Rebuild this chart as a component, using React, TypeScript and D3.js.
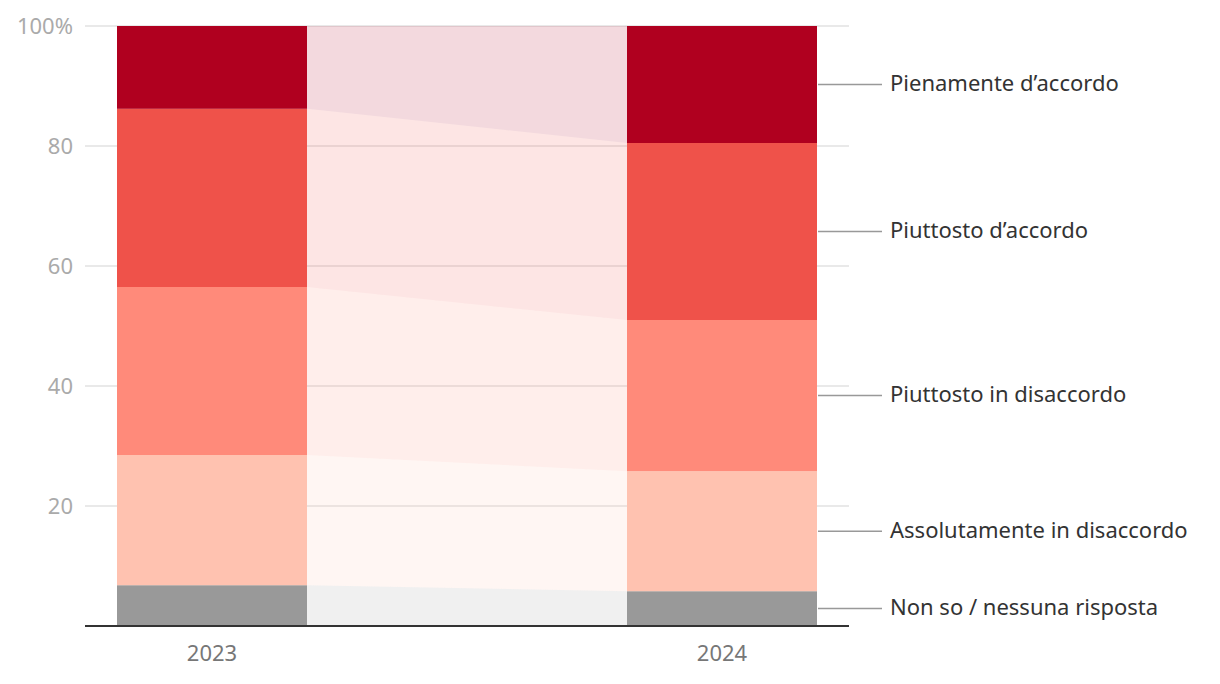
import React, { useEffect, useRef } from "react";
import * as d3 from "d3";

const years = ["2023", "2024"];
const categories = [
  "Non so / nessuna risposta",
  "Assolutamente in disaccordo",
  "Piuttosto in disaccordo",
  "Piuttosto d\u2019accordo",
  "Pienamente d\u2019accordo",
];
const values2023 = [6.8, 21.7, 28.0, 29.7, 13.8];
const values2024 = [5.8, 20.0, 25.2, 29.5, 19.5];
const colors = ["#999999", "#ffc2b0", "#ff8a7a", "#ef524a", "#b0001f"];
const yTicks = [20, 40, 60, 80, 100];

const App = () => {
  const ref = useRef(null);

  useEffect(() => {
    const svg = d3.select(ref.current);
    svg.selectAll("*").remove();

    const width = 1220;
    const height = 684;
    const margin = { top: 26, right: 371, bottom: 58, left: 85 };
    const font = "'Noto Sans', sans-serif";

    const x = d3
      .scaleBand()
      .domain(years)
      .range([margin.left, width - margin.right])
      .paddingInner(1 - 190 / 510)
      .paddingOuter(32 / 510);
    const y = d3
      .scaleLinear()
      .domain([0, 100])
      .range([height - margin.bottom, margin.top]);

    // stacked rows: one entry per category with both years
    const rows = categories.map((c, i) => ({ c, i }));
    const stackData = years.map((yr, k) => {
      const vals = k === 0 ? values2023 : values2024;
      const o: any = { year: yr };
      categories.forEach((c, i) => (o[c] = vals[i]));
      return o;
    });
    const series = d3.stack().keys(categories)(stackData);

    // gridlines
    svg
      .append("g")
      .selectAll("line")
      .data(yTicks)
      .join("line")
      .attr("x1", margin.left)
      .attr("x2", width - margin.right)
      .attr("y1", (d) => y(d))
      .attr("y2", (d) => y(d))
      .attr("stroke", "#e2e2e2")
      .attr("stroke-width", 1.5);

    svg
      .append("g")
      .selectAll("text")
      .data(yTicks)
      .join("text")
      .attr("x", 73)
      .attr("y", (d) => y(d))
      .attr("dy", "0.35em")
      .attr("text-anchor", "end")
      .attr("font-family", font)
      .attr("font-size", 22)
      .attr("fill", "#aaaaaa")
      .text((d) => (d === 100 ? "100%" : d));

    // connecting areas between the bars
    const area = d3
      .area<any>()
      .x((d, k) => (k === 0 ? x(years[0])! + x.bandwidth() : x(years[1])!))
      .y0((d) => y(d[0]))
      .y1((d) => y(d[1]));

    svg
      .append("g")
      .selectAll("path")
      .data(series)
      .join("path")
      .attr("d", (s) => area(s as any))
      .attr("fill", (s, i) => colors[i])
      .attr("fill-opacity", 0.15);

    // bars
    svg
      .append("g")
      .selectAll("g")
      .data(series)
      .join("g")
      .attr("fill", (s, i) => colors[i])
      .selectAll("rect")
      .data((s) => s)
      .join("rect")
      .attr("x", (d: any) => x(d.data.year)!)
      .attr("width", x.bandwidth())
      .attr("y", (d) => y(d[1]))
      .attr("height", (d) => y(d[0]) - y(d[1]));

    // baseline
    svg
      .append("line")
      .attr("x1", margin.left)
      .attr("x2", width - margin.right)
      .attr("y1", y(0))
      .attr("y2", y(0))
      .attr("stroke", "#333")
      .attr("stroke-width", 2);

    svg
      .append("g")
      .selectAll("text")
      .data(years)
      .join("text")
      .attr("x", (d) => x(d)! + x.bandwidth() / 2)
      .attr("y", 661)
      .attr("text-anchor", "middle")
      .attr("font-family", font)
      .attr("font-size", 22)
      .attr("fill", "#777")
      .text((d) => d);

    // labels at the right of 2024
    const last = series.map((s) => s[1]);
    const lx = x(years[1])! + x.bandwidth();
    const lab = svg.append("g").selectAll("g").data(rows).join("g");
    lab
      .append("line")
      .attr("x1", lx + 1)
      .attr("x2", lx + 65)
      .attr("y1", (r) => y((last[r.i][0] + last[r.i][1]) / 2))
      .attr("y2", (r) => y((last[r.i][0] + last[r.i][1]) / 2))
      .attr("stroke", "#999")
      .attr("stroke-width", 1.5);
    lab
      .append("text")
      .attr("x", lx + 73)
      .attr("y", (r) => y((last[r.i][0] + last[r.i][1]) / 2))
      .attr("dy", "0.3em")
      .attr("font-family", font)
      .attr("font-size", 22)
      .attr("fill", "#333")
      .text((r) => r.c);
  }, []);

  return (
    <svg
      ref={ref}
      width={1220}
      height={684}
      style={{ position: "absolute", left: 0, top: 0 }}
    ></svg>
  );
};

export default App;
